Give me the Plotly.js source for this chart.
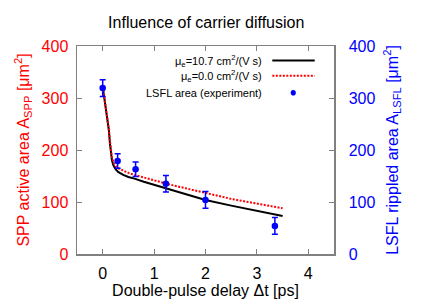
<!DOCTYPE html>
<html>
<head>
<meta charset="utf-8">
<script src="https://cdn.plot.ly/plotly-3.0.1.min.js"></script>
<style>html,body{margin:0;padding:0;background:#fff;}#chart{width:436px;height:305px;}</style>
</head>
<body>
<div id="chart"></div>
<script>
// Model curve, mu_e = 10.7 cm^2/(V s)
const modelX = [0.01, 0.04, 0.07, 0.10, 0.12, 0.14, 0.16, 0.18, 0.21, 0.25, 0.30, 0.40, 0.50, 0.62, 0.80, 1.00, 1.25, 1.50, 1.75, 2.00, 2.50, 3.00, 3.50];
const mu107Y = [315, 295, 275, 252, 238, 213, 192, 180, 170, 163, 158, 152, 148, 145, 139, 133, 126, 119, 112, 104, 93, 83, 73];
// Model curve, mu_e = 0.0
const mu00Y  = [315, 296, 276, 254, 240, 218, 198, 186, 176, 169, 165, 160, 156, 152, 147, 141, 135, 129, 123, 117, 106, 97, 88];
// Experiment
const expX   = [0, 0.29, 0.64, 1.23, 2.0, 3.35];
const expY   = [319, 179, 163, 135, 104, 54];
const expErr = [16, 14, 14, 16, 16, 16];

const xTicks = [0, 1, 2, 3, 4];
const yTicks = [0, 100, 200, 300, 400];

const FONT = 'Liberation Sans, Arial, sans-serif';
const AX = '#808080';
const DOT = '2px,1.5px';

const traces = [
  {x: modelX, y: mu107Y, mode: 'lines', line: {color: '#000', width: 2}, yaxis: 'y', hoverinfo: 'skip'},
  {x: modelX, y: mu00Y, mode: 'lines', line: {color: '#ff0000', width: 2, dash: DOT}, yaxis: 'y', hoverinfo: 'skip'},
  {x: expX, y: expY, mode: 'markers', marker: {color: '#0000ff', size: 6.5},
   error_y: {type: 'data', array: expErr, visible: true, color: '#0000ff', thickness: 1.5, width: 3},
   yaxis: 'y2'}
];

const legY = [0.93, 0.857, 0.775];
const layout = {
  width: 436, height: 305,
  margin: {l: 77, r: 102, t: 46, b: 51},
  paper_bgcolor: '#fff', plot_bgcolor: '#fff',
  showlegend: false,
  font: {family: FONT, size: 16, color: '#000'},
  title: {text: 'Influence of carrier diffusion', x: 0.473, xanchor: 'center', y: 0.925, yanchor: 'middle', font: {size: 16, family: FONT}},
  xaxis: {range: [-0.5, 4.5], tickvals: xTicks, ticks: 'inside', ticklen: 5, tickcolor: AX,
          showline: true, linecolor: AX, linewidth: 1.5, mirror: 'ticks', showgrid: false, zeroline: false,
          tickfont: {size: 16}, ticklabelstandoff: 4, title: {text: 'Double-pulse delay Δt [ps]', font: {size: 16}, standoff: 4}},
  yaxis: {range: [0, 400], tickvals: yTicks, ticks: 'inside', ticklen: 5, tickcolor: AX,
          showline: true, linecolor: AX, linewidth: 1.5, mirror: true, showgrid: false, zeroline: false,
          tickfont: {size: 16, color: '#ff0000'}, ticklabelstandoff: 4,
          title: {text: 'SPP active area A<sub>SPP</sub> [μm<sup>2</sup>]', font: {size: 16, color: '#ff0000'}, standoff: 8}},
  yaxis2: {range: [0, 400], tickvals: yTicks, ticks: 'inside', ticklen: 5, tickcolor: AX, overlaying: 'y', side: 'right',
          showline: true, linecolor: AX, linewidth: 1.5, showgrid: false, zeroline: false,
          tickfont: {size: 16, color: '#0000ff'}, ticklabelstandoff: 10,
          title: {text: 'LSFL rippled area A<sub>LSFL</sub> [μm<sup>2</sup>]', font: {size: 16, color: '#0000ff'}, standoff: 12}},
  annotations: [
    {xref: 'paper', yref: 'paper', x: 0.727, y: legY[0], xanchor: 'right', yanchor: 'middle', showarrow: false,
     text: 'μ<sub>e</sub>=10.7 cm<sup>2</sup>/(V s)', font: {size: 11}},
    {xref: 'paper', yref: 'paper', x: 0.727, y: legY[1], xanchor: 'right', yanchor: 'middle', showarrow: false,
     text: 'μ<sub>e</sub>=0.0 cm<sup>2</sup>/(V s)', font: {size: 11}},
    {xref: 'paper', yref: 'paper', x: 0.727, y: legY[2], xanchor: 'right', yanchor: 'middle', showarrow: false,
     text: 'LSFL area (experiment)', font: {size: 11}}
  ],
  shapes: [
    {type: 'line', xref: 'paper', yref: 'paper', x0: 0.76, x1: 0.925, y0: legY[0], y1: legY[0], line: {color: '#000', width: 2}},
    {type: 'line', xref: 'paper', yref: 'paper', x0: 0.76, x1: 0.925, y0: legY[1], y1: legY[1], line: {color: '#ff0000', width: 2, dash: DOT}},
    {type: 'circle', xref: 'paper', yref: 'paper', x0: 0.8315, x1: 0.8515, y0: legY[2] - 0.0135, y1: legY[2] + 0.0135, fillcolor: '#0000ff', line: {width: 0}}
  ]
};

Plotly.newPlot('chart', traces, layout, {staticPlot: true, displayModeBar: false});
</script>
</body>
</html>
